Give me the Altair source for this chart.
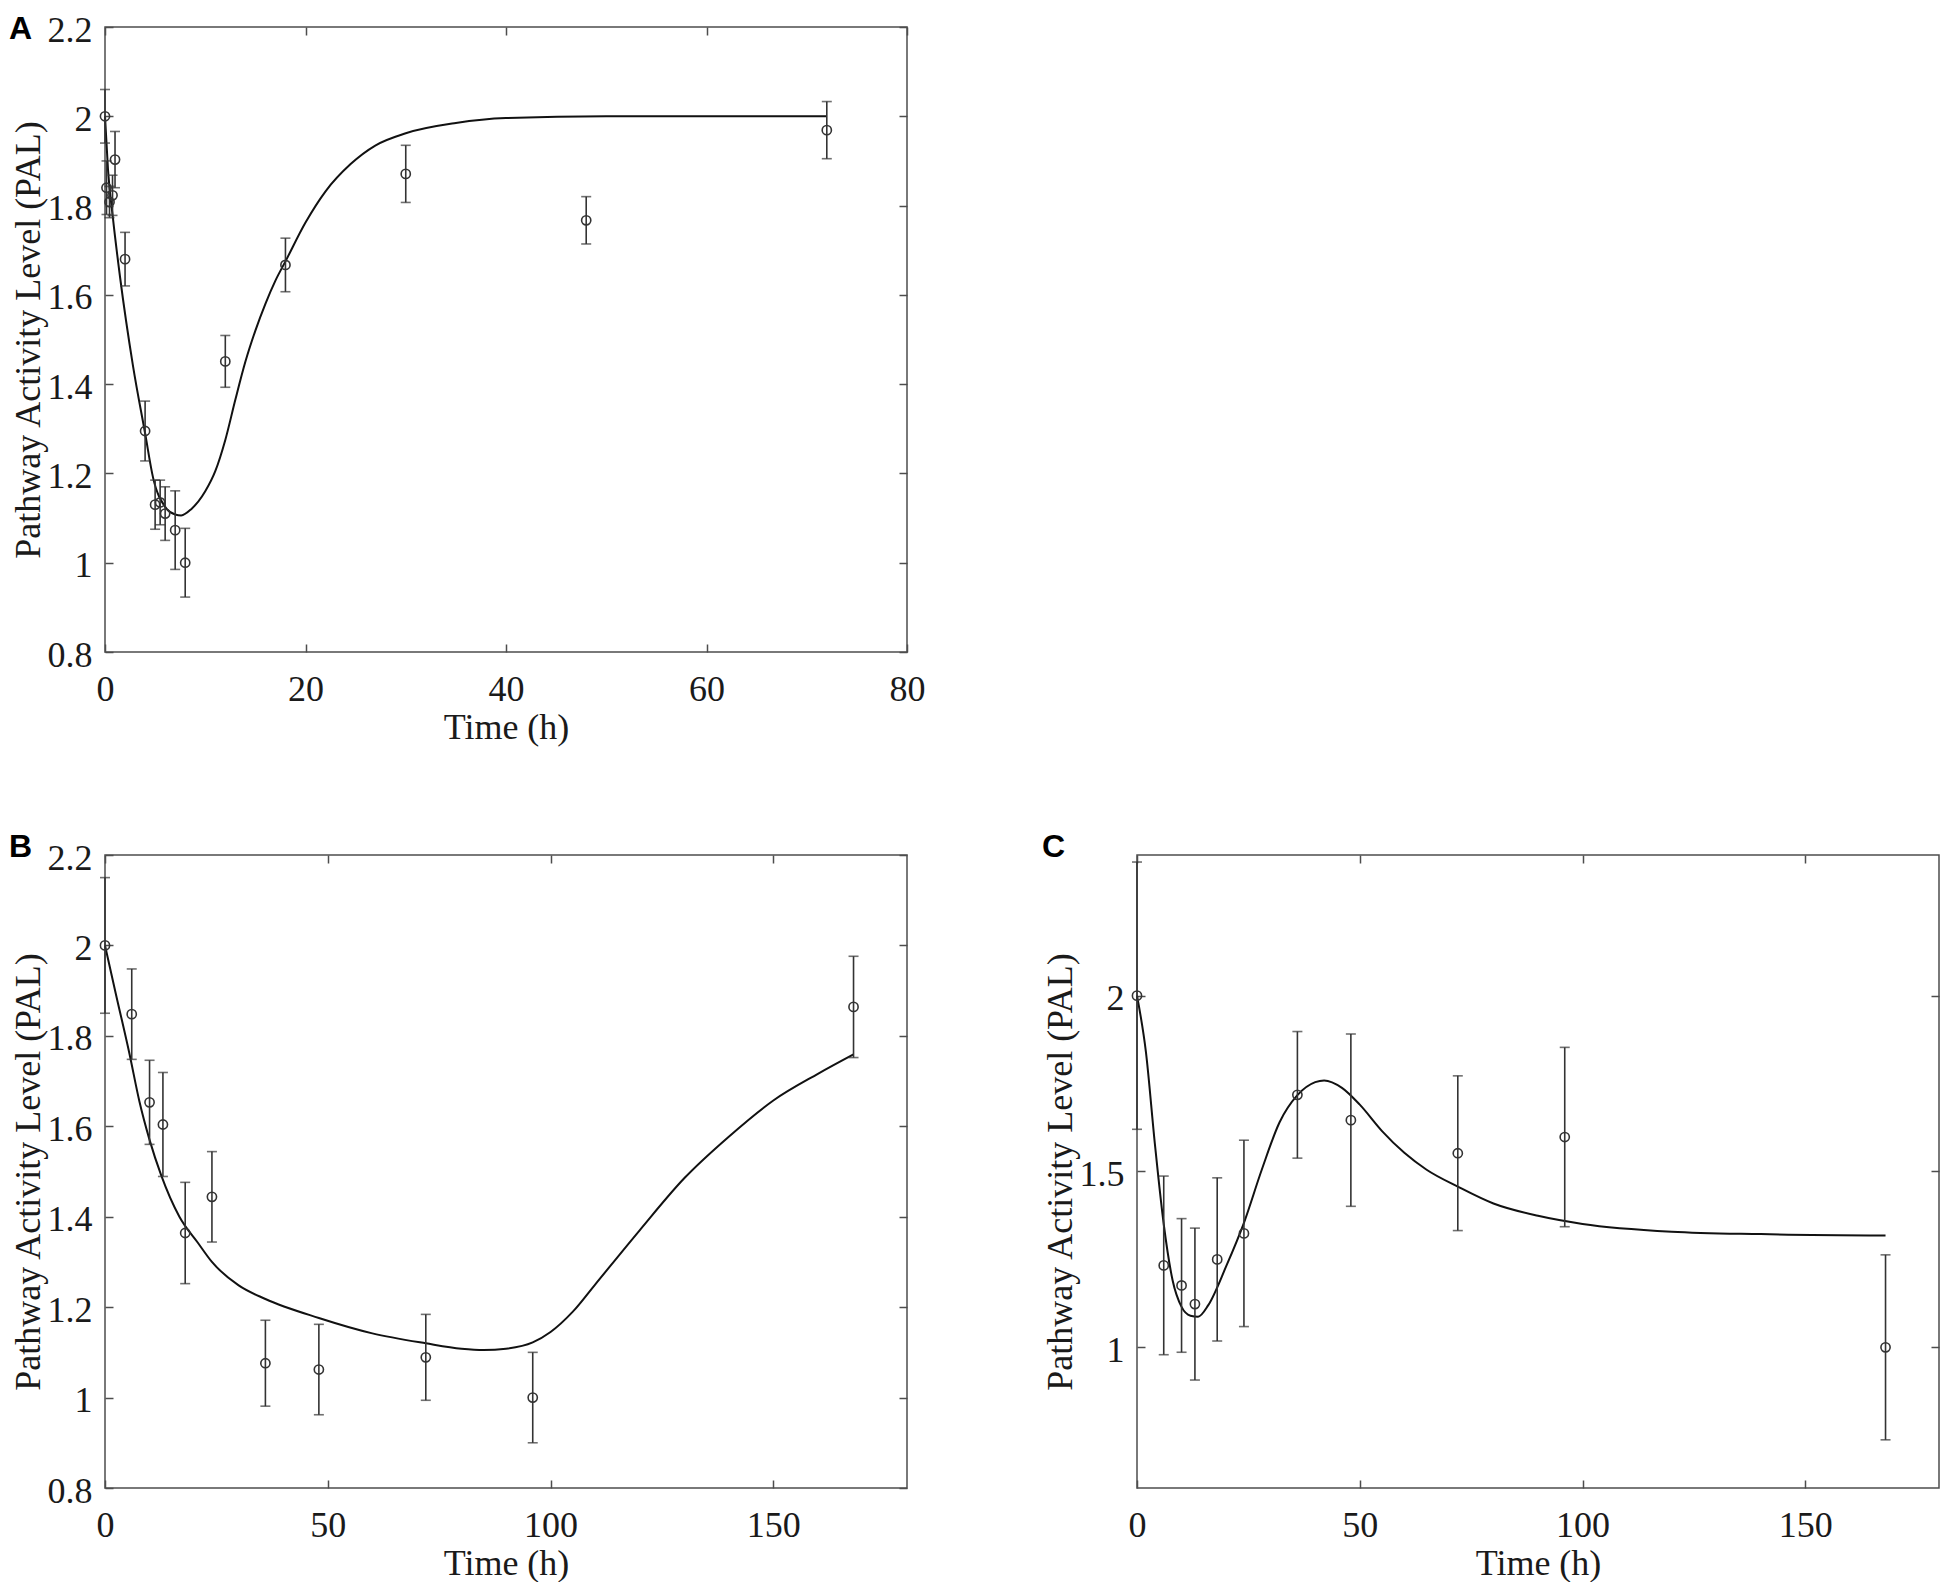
import altair as alt
import pandas as pd

# ---------------- Panel A ----------------
a_t = [0, 0.15, 0.45, 0.75, 1, 2, 4, 5, 5.5, 6, 7, 8, 12, 18, 30, 48, 72]
a_y = [2.0, 1.84, 1.808, 1.823, 1.903, 1.68, 1.295, 1.13, 1.135, 1.11, 1.073, 1.0,
       1.451, 1.667, 1.871, 1.767, 1.969]
a_err = [0.06, 0.06, 0.035, 0.045, 0.063, 0.06, 0.067, 0.055, 0.05, 0.06, 0.088, 0.077,
         0.058, 0.06, 0.064, 0.053, 0.064]
a_fit_t = [0, 0.3, 0.8, 1.5, 2.8, 4, 4.8, 6, 7, 7.6, 8.6, 10, 11, 12, 13, 14, 15, 16,
           17, 18, 20, 22, 24.5, 27, 30, 35, 40, 50, 72]
a_fit_y = [2.0, 1.88, 1.77, 1.64, 1.44, 1.29, 1.19, 1.125, 1.108, 1.106, 1.12, 1.16,
           1.205, 1.275, 1.365, 1.45, 1.52, 1.58, 1.632, 1.675, 1.762, 1.832, 1.893,
           1.935, 1.962, 1.985, 1.996, 2.0, 2.0]

# ---------------- Panel B ----------------
b_t = [0, 6, 10, 13, 18, 24, 36, 48, 72, 96, 168]
b_y = [2.0, 1.848, 1.653, 1.604, 1.364, 1.444, 1.076, 1.062, 1.089, 1.0, 1.864]
b_err = [0.15, 0.1, 0.093, 0.115, 0.112, 0.1, 0.095, 0.1, 0.095, 0.1, 0.112]
b_fit_t = [0, 2.5, 5.5, 7.7, 10, 12.6, 16.7, 20.8, 24, 30, 36, 48, 60, 72, 80, 85,
           90, 96, 100, 105, 110, 120, 130, 140, 150, 160, 168]
b_fit_y = [2.0, 1.89, 1.76, 1.656, 1.57, 1.492, 1.40, 1.343, 1.30, 1.248, 1.218,
           1.176, 1.142, 1.12, 1.108, 1.105, 1.108, 1.122, 1.145, 1.19, 1.25, 1.37,
           1.485, 1.577, 1.657, 1.716, 1.759]

# ---------------- Panel C ----------------
c_t = [0, 6, 10, 13, 18, 24, 36, 48, 72, 96, 168]
c_y = [2.0, 1.233, 1.176, 1.123, 1.25, 1.324, 1.718, 1.646, 1.552, 1.598, 1.0]
c_err = [0.38, 0.254, 0.19, 0.216, 0.232, 0.265, 0.18, 0.245, 0.22, 0.255, 0.263]
c_fit_t = [0, 2, 4, 6, 8, 10, 12, 13.7, 16, 20, 24, 28, 32, 36, 40, 42, 46, 50, 55,
           60, 65, 72, 80, 90, 100, 120, 140, 168]
c_fit_y = [2.0, 1.84, 1.58, 1.35, 1.19, 1.115, 1.09, 1.087, 1.12, 1.23, 1.354, 1.505,
           1.64, 1.717, 1.754, 1.759, 1.738, 1.69, 1.615, 1.553, 1.505, 1.457, 1.409,
           1.374, 1.351, 1.329, 1.322, 1.318]

# axis ticks / limits
a_xticks = [0, 20, 40, 60, 80]
bc_xticks = [0, 50, 100, 150]
ab_yticks = [0.8, 1.0, 1.2, 1.4, 1.6, 1.8, 2.0, 2.2]
c_yticks = [1.0, 1.5, 2.0]

SERIF = "Liberation Serif"
FS = 36
TK = 8
FRAME = "#4d4d4d"
INK = "#333333"


def panel(t, y, err, ft, fy, xdom, ydom, xticks, yticks, yfmt, letter, ldx, ldy, w, h):
    pts = pd.DataFrame({
        "t": t, "y": y,
        "lo": [v - e for v, e in zip(y, err)],
        "hi": [v + e for v, e in zip(y, err)],
    })
    fit = pd.DataFrame({"t": ft, "y": fy})
    xs = alt.Scale(domain=xdom, nice=False, zero=False)
    ys = alt.Scale(domain=ydom, nice=False, zero=False)

    x_bottom = alt.Axis(values=xticks, format="d", title="Time (h)", orient="bottom",
                        offset=-TK, tickSize=TK, domain=False, grid=False,
                        labelPadding=20, titlePadding=3, labelFlush=False,
                        labelOverlap=False)
    y_left = alt.Axis(values=yticks, format=yfmt, title="Pathway Activity Level (PAL)",
                      orient="left", offset=-TK, tickSize=TK, domain=False, grid=False,
                      labelPadding=13, labelOffset=3, titlePadding=0,
                      labelOverlap=False)
    x_top = alt.Axis(values=xticks, orient="top", labels=False, title=None,
                     offset=-TK, tickSize=TK, domain=False, grid=False)
    y_right = alt.Axis(values=yticks, orient="right", labels=False, title=None,
                       offset=-TK, tickSize=TK, domain=False, grid=False)

    line = alt.Chart(fit).mark_line(color="#111111", strokeWidth=2,
                                    interpolate="monotone").encode(
        x=alt.X("t:Q", scale=xs, axis=x_bottom),
        y=alt.Y("y:Q", scale=ys, axis=y_left),
    )
    bars = alt.Chart(pts).mark_rule(color=INK, strokeWidth=1.6).encode(
        x=alt.X("t:Q", scale=xs, axis=x_top),
        y=alt.Y("lo:Q", scale=ys, axis=y_right),
        y2="hi:Q",
    )
    cap_lo = alt.Chart(pts).mark_tick(color=INK, orient="horizontal", size=10,
                                      thickness=1.6).encode(
        x=alt.X("t:Q", scale=xs, axis=None),
        y=alt.Y("lo:Q", scale=ys, axis=None),
    )
    cap_hi = alt.Chart(pts).mark_tick(color=INK, orient="horizontal", size=10,
                                      thickness=1.6).encode(
        x=alt.X("t:Q", scale=xs, axis=None),
        y=alt.Y("hi:Q", scale=ys, axis=None),
    )
    dots = alt.Chart(pts).mark_point(shape="circle", filled=False, size=85,
                                     strokeWidth=1.6, color=INK, opacity=1).encode(
        x=alt.X("t:Q", scale=xs, axis=None),
        y=alt.Y("y:Q", scale=ys, axis=None),
    )
    lab = alt.Chart(pd.DataFrame({"lab": [letter]})).mark_text(
        font="Liberation Sans", fontWeight="bold", fontSize=32, align="left",
        baseline="middle", color="black").encode(
        text="lab:N", x=alt.value(ldx), y=alt.value(ldy))

    return alt.layer(line, bars, cap_lo, cap_hi, dots, lab).resolve_scale(
        x="shared", y="shared").resolve_axis(x="independent", y="independent"
    ).properties(width=w, height=h)


pa = panel(a_t, a_y, a_err, a_fit_t, a_fit_y, [0, 80], [0.8, 2.2], a_xticks, ab_yticks,
           ".2~f", "A", -96, 2, 802, 625)
pb = panel(b_t, b_y, b_err, b_fit_t, b_fit_y, [0, 180], [0.8, 2.2], bc_xticks, ab_yticks,
           ".2~f", "B", -96, -8, 802, 633)
pc = panel(c_t, c_y, c_err, c_fit_t, c_fit_y, [0, 180], [0.6, 2.4], bc_xticks, c_yticks,
           ".1~f", "C", -95, -8, 802, 633)

chart = alt.vconcat(pa, alt.hconcat(pb, pc, spacing=132), spacing=84).properties(
    padding={"left": 0, "top": 3, "right": 0, "bottom": 0},
    background="white",
).configure_view(
    stroke=FRAME, strokeWidth=1.5
).configure_axis(
    labelFont=SERIF, labelFontSize=FS, labelColor="#1a1a1a",
    titleFont=SERIF, titleFontSize=FS, titleColor="#1a1a1a", titleFontWeight="normal",
    tickColor=FRAME, tickWidth=1.5,
)

chart.save("out.html", embed_options={"renderer": "svg", "actions": False})
